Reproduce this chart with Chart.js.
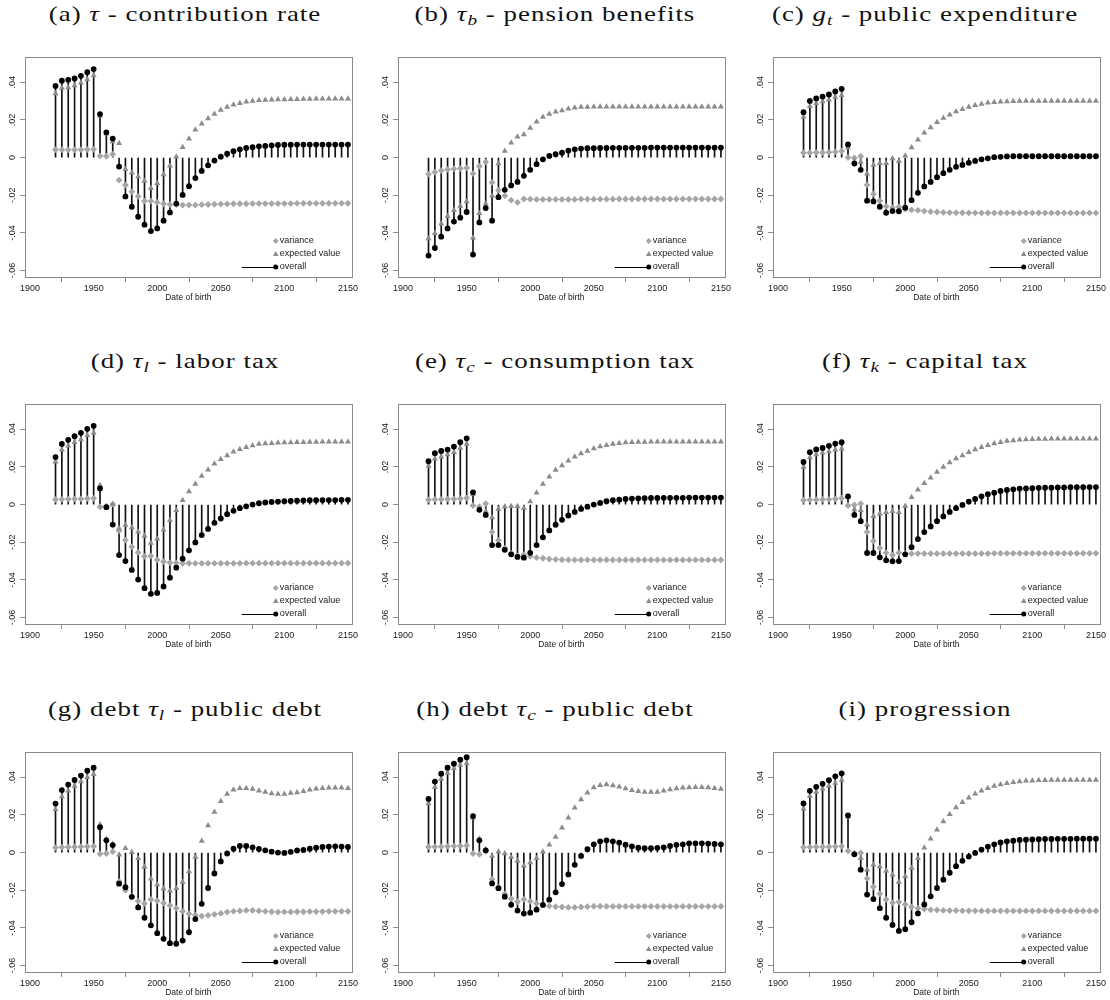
<!DOCTYPE html>
<html>
<head>
<meta charset="utf-8">
<title>Welfare decomposition by date of birth</title>
<script src="https://cdn.jsdelivr.net/npm/chart.js@4.4.1/dist/chart.umd.min.js"></script>
<style>
  html, body { margin: 0; padding: 0; background: #fff; }
  #page { position: relative; width: 1110px; height: 1000px; overflow: hidden; }
  .ttl {
    position: absolute; width: 370px; text-align: center; white-space: nowrap;
    font-family: "Liberation Serif", "DejaVu Serif", serif; font-size: 21px;
    letter-spacing: 0.8px; line-height: 24px; color: #111;
    transform: scaleX(1.28); transform-origin: 50% 50%;
  }
  .ttl sub { font-size: 15px; vertical-align: -4px; line-height: 0; }
  canvas { position: absolute; }
</style>
</head>
<body>
<div id="page"></div>
<script>
'use strict';

/* ─────────────────────────────────────────────
   DATA  (cohorts 1920–2150)
   ───────────────────────────────────────────── */
const years = [1920, 1925, 1930, 1935, 1940, 1945, 1950, 1955, 1960, 1965,
               1970, 1975, 1980, 1985, 1990, 1995, 2000, 2005, 2010, 2015,
               2020, 2025, 2030, 2035, 2040, 2045, 2050, 2055, 2060, 2065,
               2070, 2075, 2080, 2085, 2090, 2095, 2100, 2105, 2110, 2115,
               2120, 2125, 2130, 2135, 2140, 2145, 2150];
const xTicks = [1900, 1950, 2000, 2050, 2100, 2150];
const yTicks = [-0.06, -0.04, -0.02, 0, 0.02, 0.04];
const yTickLabels = ['-.06', '-.04', '-.02', '0', '.02', '.04'];
const seriesNames = ['variance', 'expected value', 'overall'];
const titles = [
  '(a) <i>τ</i> - contribution rate',
  '(b) <i>τ<sub>b</sub></i> - pension benefits',
  '(c) <i>g<sub>t</sub></i> - public expenditure',
  '(d) <i>τ<sub>l</sub></i> - labor tax',
  '(e) <i>τ<sub>c</sub></i> - consumption tax',
  '(f) <i>τ<sub>k</sub></i> - capital tax',
  '(g) debt <i>τ<sub>l</sub></i> - public debt',
  '(h) debt <i>τ<sub>c</sub></i> - public debt',
  '(i) progression',
];

// (a) contribution rate
const aVar = [.0042,.0042,.0041,.0041,.0042,.0043,.0044,.0009,.0007,.0018,
              -.012,-.0146,-.0182,-.0206,-.0231,-.0231,-.0238,-.0245,-.0249,-.025,
              -.0252,-.0252,-.0252,-.025,-.0249,-.0248,-.0247,-.0246,-.0245,-.0245,
              -.0245,-.0244,-.0244,-.0244,-.0244,-.0244,-.0244,-.0244,-.0243,-.0243,
              -.0243,-.0243,-.0243,-.0243,-.0243,-.0243,-.0243];
const aExp = [.034,.0369,.0372,.0383,.0397,.0415,.0436,.0222,.0127,.0086,
              .0076,-.0062,-.008,-.01,-.0124,-.0162,-.0136,-.009,-.0044,.0005,
              .0055,.01,.0148,.018,.0208,.0231,.0252,.0268,.028,.0289,
              .0296,.03,.0305,.0306,.0307,.0308,.0309,.031,.031,.0311,
              .0311,.0312,.0312,.0312,.0313,.0313,.0313];
const aAll = [.038,.0408,.0413,.042,.0434,.0453,.047,.0231,.0134,.0101,
              -.0048,-.0206,-.0261,-.0314,-.0356,-.039,-.0376,-.0335,-.0291,-.0244,
              -.0198,-.0152,-.0109,-.0071,-.0041,-.0016,.0005,.0021,.0034,.0044,
              .0051,.0055,.006,.0062,.0065,.0067,.0068,.0068,.0069,.0069,
              .0069,.0069,.0069,.0069,.0069,.0069,.0069];

// (b) pension benefits
const bVar = [-.0088,-.0078,-.0069,-.0063,-.006,-.0058,-.0055,-.0085,-.0046,-.0023,
              -.0132,-.0173,-.0203,-.0226,-.0238,-.022,-.0221,-.0222,-.0222,-.0222,
              -.0222,-.0222,-.0222,-.0222,-.0221,-.0221,-.0221,-.0221,-.0221,-.0221,
              -.022,-.022,-.022,-.022,-.022,-.022,-.022,-.022,-.022,-.022,
              -.022,-.022,-.022,-.022,-.022,-.022,-.022];
const bExp = [-.0429,-.0402,-.0351,-.0312,-.0279,-.0257,-.0233,-.0425,-.0295,-.0245,
              -.0203,-.0032,.0035,.0079,.0111,.0123,.0157,.019,.0215,.0231,
              .0243,.025,.0259,.0264,.0268,.0269,.027,.027,.027,.027,
              .027,.027,.027,.027,.027,.027,.027,.027,.027,.027,
              .027,.027,.027,.027,.027,.027,.027];
const bAll = [-.052,-.048,-.042,-.0376,-.034,-.0319,-.0289,-.0515,-.0344,-.0268,
              -.0335,-.021,-.0171,-.0148,-.0129,-.0097,-.0065,-.0035,-.0009,.0009,
              .0018,.0026,.0037,.0044,.0048,.005,.005,.0051,.0051,.0052,
              .0052,.0052,.0052,.0052,.0052,.0053,.0053,.0053,.0053,.0053,
              .0053,.0053,.0053,.0053,.0053,.0053,.0053];

// (c) public expenditure
const cVar = [.0025,.0026,.0027,.0027,.0028,.003,.0035,0,-.0002,.0007,
              -.0145,-.0194,-.0229,-.0259,-.0266,-.0263,-.0273,-.0278,-.028,-.0284,
              -.0287,-.0289,-.0291,-.0292,-.0293,-.0293,-.0294,-.0294,-.0294,-.0294,
              -.0294,-.0294,-.0294,-.0294,-.0294,-.0294,-.0294,-.0294,-.0294,-.0294,
              -.0294,-.0294,-.0294,-.0294,-.0294,-.0294,-.0294];
const cExp = [.0217,.0273,.0289,.0298,.0307,.0321,.0331,.0053,-.0018,-.0023,
              -.0086,-.004,-.003,-.003,-.0005,-.002,.001,.0053,.0095,.0132,
              .016,.0187,.021,.0227,.0245,.0257,.0268,.0278,.0285,.0291,
              .0294,.0297,.0298,.0299,.03,.03,.03,.03,.03,.03,
              .03,.03,.03,.03,.03,.03,.03];
const cAll = [.0241,.0301,.0314,.0324,.0335,.0351,.0365,.007,-.0032,-.0065,
              -.0229,-.0233,-.0261,-.0293,-.0284,-.0285,-.0266,-.0226,-.0187,-.0153,
              -.0129,-.0104,-.0083,-.0065,-.0049,-.0039,-.0028,-.0018,-.0009,-.0004,
              .0002,.0004,.0006,.0007,.0007,.0007,.0007,.0007,.0007,.0007,
              .0007,.0007,.0007,.0007,.0007,.0007,.0007];

// (d) labor tax
const dVar = [.0027,.0028,.0029,.003,.003,.0032,.0033,-.0012,-.0009,.0002,
              -.0139,-.0189,-.0224,-.0254,-.0275,-.0273,-.0294,-.0303,-.0308,-.031,
              -.0312,-.0312,-.0312,-.0312,-.0312,-.0312,-.0312,-.0312,-.0312,-.0312,
              -.0311,-.0311,-.0311,-.0311,-.0311,-.0311,-.0311,-.0311,-.0311,-.0311,
              -.0311,-.0311,-.0311,-.0311,-.0311,-.0311,-.0311];
const dExp = [.0227,.0291,.0312,.0331,.0345,.0368,.0382,.0102,-.0009,0,
              -.0125,-.0109,-.0122,-.0144,-.0166,-.0204,-.0181,-.0134,-.0083,-.003,
              .0023,.0069,.0109,.0152,.0185,.0217,.0241,.0261,.028,.0294,
              .0305,.0314,.0321,.0324,.0326,.0328,.0329,.033,.0331,.0331,
              .0332,.0332,.0333,.0333,.0333,.0333,.0333];
const dAll = [.0252,.0322,.0344,.0363,.0381,.0402,.0418,.0086,-.0014,-.0106,
              -.0268,-.03,-.0347,-.0398,-.0444,-.0474,-.0469,-.0435,-.0388,-.0335,
              -.0287,-.0243,-.0201,-.0162,-.0129,-.0097,-.0074,-.0051,-.0033,-.0019,
              -.0009,0,.0007,.0011,.0014,.0016,.0018,.0019,.0021,.0022,
              .0023,.0023,.0024,.0024,.0024,.0025,.0025];

// (e) consumption tax
const eVar = [.0025,.0027,.0028,.0029,.003,.0032,.0035,-.0005,-.0011,.0005,
              -.0146,-.019,-.0231,-.0259,-.0273,-.0266,-.0275,-.0282,-.0285,-.0289,
              -.0291,-.0293,-.0294,-.0294,-.0294,-.0294,-.0294,-.0294,-.0294,-.0294,
              -.0294,-.0294,-.0294,-.0294,-.0294,-.0294,-.0294,-.0294,-.0294,-.0294,
              -.0294,-.0294,-.0294,-.0294,-.0294,-.0294,-.0294];
const eExp = [.0205,.0243,.0254,.0266,.0278,.03,.0322,.0055,-.0023,-.0035,
              -.0069,-.0023,-.0011,-.0009,-.0009,-.0018,.0016,.0063,.0109,.0148,
              .0183,.0208,.0233,.0254,.0271,.0285,.0298,.0308,.0315,.0322,
              .0326,.0329,.0331,.0332,.0332,.0333,.0333,.0333,.0333,.0333,
              .0333,.0333,.0333,.0333,.0333,.0333,.0333];
const eAll = [.023,.0273,.0285,.0292,.0308,.0331,.0352,.0065,-.0028,-.0055,
              -.0215,-.0215,-.024,-.0264,-.0278,-.0282,-.0256,-.0215,-.0174,-.0137,
              -.0107,-.0081,-.0058,-.0039,-.0023,-.0011,0,.0009,.0018,.0023,
              .0026,.003,.0032,.0033,.0034,.0035,.0035,.0036,.0036,.0036,
              .0036,.0037,.0037,.0037,.0037,.0037,.0037];

// (f) capital tax
const fVar = [.0023,.0025,.0026,.0027,.0028,.003,.0034,-.0005,-.0002,.0005,
              -.0146,-.0194,-.0231,-.0256,-.0268,-.0256,-.0261,-.026,-.026,-.026,
              -.026,-.026,-.026,-.026,-.026,-.026,-.026,-.026,-.026,-.026,
              -.0259,-.0259,-.0259,-.0259,-.0259,-.0259,-.0259,-.0259,-.0259,-.0259,
              -.0259,-.0259,-.0259,-.0259,-.0259,-.0259,-.0259];
const fExp = [.0199,.025,.0266,.0275,.0282,.0291,.0296,.004,-.0026,-.003,
              -.0107,-.0062,-.0049,-.0041,-.0035,-.0041,-.0007,.0039,.0079,.0113,
              .0143,.0173,.0199,.0224,.0245,.0261,.0278,.0293,.0305,.0315,
              .0324,.0331,.0337,.034,.0344,.0345,.0347,.0348,.0348,.0349,
              .0349,.0349,.035,.035,.035,.035,.035];
const fAll = [.0226,.0278,.0293,.0301,.0312,.0324,.0331,.0044,-.0055,-.0088,
              -.0257,-.0257,-.028,-.0296,-.0301,-.03,-.0264,-.0226,-.0183,-.0146,
              -.0116,-.0088,-.0063,-.0039,-.0019,-.0002,.0016,.003,.0044,.0055,
              .0063,.0072,.0078,.0081,.0085,.0086,.0087,.0089,.009,.009,
              .0091,.0091,.0092,.0092,.0092,.0093,.0093];

// (g) debt, labor tax
const gVar = [.0026,.0028,.0029,.003,.0031,.0032,.0033,-.0007,-.0005,.0005,
              -.0153,-.02,-.0233,-.0258,-.027,-.0249,-.0256,-.0268,-.0281,-.0296,
              -.0312,-.0325,-.0332,-.0337,-.0333,-.0328,-.0323,-.0316,-.0312,-.031,
              -.0307,-.0307,-.031,-.0312,-.0314,-.0316,-.0315,-.0315,-.0314,-.0314,
              -.0313,-.0313,-.0313,-.0312,-.0312,-.0312,-.0312];
const gExp = [.023,.0298,.0328,.0353,.0377,.04,.0416,.0149,.0072,.0045,
              -.0012,.0023,.0002,-.003,-.0075,-.0139,-.017,-.0191,-.0202,-.0189,
              -.0156,-.01,-.0023,.0061,.0144,.0216,.0272,.0311,.0333,.0342,
              .0342,.0337,.0328,.0321,.0314,.0311,.0311,.0316,.0319,.0326,
              .0333,.0339,.0342,.0344,.0344,.0344,.0342];
const gAll = [.026,.0332,.0361,.0386,.0409,.0435,.0451,.0135,.0065,.004,
              -.0165,-.0184,-.0235,-.0291,-.0346,-.0386,-.0428,-.0458,-.0481,-.0484,
              -.0467,-.0423,-.0353,-.0272,-.0188,-.0111,-.0047,-.0005,.0021,.0035,
              .0035,.0028,.0019,.0012,.0005,0,-.0002,.0004,.0011,.0014,
              .0021,.0026,.003,.0032,.0033,.0032,.003];

// (h) debt, consumption tax
const hVar = [.003,.0031,.0032,.0033,.0034,.0035,.0037,-.0005,-.0009,.0007,
              -.0141,-.0185,-.022,-.0245,-.0261,-.0248,-.0259,-.027,-.0277,-.0284,
              -.0287,-.0289,-.0291,-.0291,-.0289,-.0287,-.0285,-.0285,-.0286,-.0286,
              -.0286,-.0286,-.0286,-.0286,-.0286,-.0286,-.0286,-.0286,-.0286,-.0286,
              -.0286,-.0286,-.0286,-.0286,-.0286,-.0286,-.0286];
const hExp = [.0261,.0347,.0391,.0423,.0446,.0465,.0474,.0185,.0074,.0018,
              -.0018,.0005,-.0005,-.0023,-.0044,-.007,-.0053,-.003,.0005,.0042,
              .0083,.0132,.0185,.0238,.0282,.0317,.0345,.0358,.0361,.0356,
              .0349,.034,.0331,.0326,.0321,.0321,.0322,.0328,.0335,.034,
              .0344,.0345,.0347,.0347,.0345,.0342,.0338];
const hAll = [.0285,.0377,.0419,.0451,.0472,.0493,.0506,.0194,.0065,.0012,
              -.0164,-.0189,-.0234,-.0277,-.0308,-.0324,-.0319,-.0303,-.0278,-.025,
              -.0211,-.0167,-.0116,-.0065,-.0018,.0018,.0044,.006,.0065,.006,
              .0053,.0042,.0033,.0026,.0023,.0023,.0025,.0028,.0035,.0041,
              .0044,.0049,.0049,.0049,.0048,.0046,.0044];

// (i) progression
const iVar = [.0028,.0029,.003,.003,.0031,.0032,.0033,.0009,-.0004,-.0002,
              -.0137,-.0182,-.0219,-.0249,-.0267,-.0263,-.0275,-.0289,-.0295,-.03,
              -.0304,-.0305,-.0307,-.0308,-.0308,-.0309,-.0309,-.0309,-.031,-.031,
              -.031,-.031,-.031,-.031,-.031,-.031,-.031,-.031,-.031,-.031,
              -.031,-.031,-.031,-.031,-.031,-.031,-.031];
const iExp = [.0233,.03,.0321,.0339,.0353,.037,.0386,.019,-.0005,-.003,
              -.0091,-.0065,-.0074,-.0096,-.0118,-.0156,-.0126,-.0082,-.003,.0026,
              .0074,.0121,.0165,.0204,.024,.0267,.0291,.0312,.0328,.0342,
              .0354,.0361,.0368,.0374,.0377,.0381,.0382,.0384,.0384,.0385,
              .0385,.0385,.0386,.0386,.0386,.0386,.0386];
const iAll = [.0261,.0328,.0349,.0365,.0384,.0405,.0421,.0198,-.0009,-.0091,
              -.0223,-.0247,-.0295,-.0346,-.0384,-.0416,-.0407,-.037,-.0323,-.0275,
              -.0232,-.0188,-.0144,-.0107,-.0072,-.0044,-.0021,-.0002,.0016,.0032,
              .0044,.0054,.006,.0063,.0067,.0068,.007,.0071,.0072,.0072,
              .0073,.0073,.0073,.0074,.0074,.0074,.0074];

const PANELS = [
  [aVar, aExp, aAll], [bVar, bExp, bAll], [cVar, cExp, cAll],
  [dVar, dExp, dAll], [eVar, eExp, eAll], [fVar, fExp, fAll],
  [gVar, gExp, gAll], [hVar, hExp, hAll], [iVar, iExp, iAll],
];

/* ─────────────────────────────────────────────
   LAYOUT & THEME
   ───────────────────────────────────────────── */
const COL_LEFT = [25, 398, 773];      // left edge of each plot frame
const ROW_TOP = [57, 404, 752];       // top edge of each plot frame
const FRAME_W = 328, FRAME_H = 220;
const Y_AXIS_W = 25, X_AXIS_H = 26, PAD_TOP = 10, PAD_RIGHT = 6;

const INK = '#1a1a1a';
const FRAME = '#8a8a8a';
const VAR_GREY = '#a6a6a6';
const EXP_GREY = '#8c8c8c';
const SANS = '"Liberation Sans", Arial, sans-serif';

const pts = vals => vals.map((v, i) => ({ x: years[i], y: v }));

/* frame box, rotated y labels and the in-plot legend */
const stataPlugin = {
  id: 'stataLook',
  beforeDatasetsDraw(chart) {
    const { ctx, chartArea: a } = chart;
    ctx.save();
    ctx.strokeStyle = FRAME;
    ctx.lineWidth = 1;
    ctx.strokeRect(Math.round(a.left) + 0.5, Math.round(a.top) + 0.5,
                   Math.round(a.right - a.left), Math.round(a.bottom - a.top));
    ctx.restore();
  },
  afterDraw(chart) {
    const { ctx, chartArea: a, scales: { y } } = chart;
    ctx.save();
    ctx.fillStyle = INK;
    ctx.font = '9px ' + SANS;
    ctx.textAlign = 'center';
    ctx.textBaseline = 'middle';
    y.ticks.forEach((t, i) => {
      ctx.save();
      ctx.translate(a.left - 12, y.getPixelForValue(t.value));
      ctx.rotate(-Math.PI / 2);
      ctx.fillText(yTickLabels[i], 0, 0);
      ctx.restore();
    });

    // legend, lower right inside the frame
    const mx = a.right - 76;
    const rows = [a.bottom - 36, a.bottom - 23, a.bottom - 10];

    ctx.fillStyle = VAR_GREY;
    ctx.beginPath();
    ctx.moveTo(mx, rows[0] - 3); ctx.lineTo(mx + 3, rows[0]);
    ctx.lineTo(mx, rows[0] + 3); ctx.lineTo(mx - 3, rows[0]);
    ctx.closePath(); ctx.fill();

    ctx.fillStyle = EXP_GREY;
    ctx.beginPath();
    ctx.moveTo(mx, rows[1] - 3); ctx.lineTo(mx + 2.8, rows[1] + 2);
    ctx.lineTo(mx - 2.8, rows[1] + 2);
    ctx.closePath(); ctx.fill();

    ctx.strokeStyle = '#000';
    ctx.lineWidth = 1;
    ctx.beginPath();
    ctx.moveTo(a.right - 110, rows[2] + 0.5); ctx.lineTo(mx, rows[2] + 0.5);
    ctx.stroke();
    ctx.fillStyle = '#000';
    ctx.beginPath(); ctx.arc(mx, rows[2], 2.5, 0, Math.PI * 2); ctx.fill();

    ctx.fillStyle = INK;
    ctx.textAlign = 'left';
    seriesNames.forEach((name, i) => ctx.fillText(name, a.right - 72, rows[i]));
    ctx.restore();
  },
};

function axisGrid() {
  return {
    drawOnChartArea: false,
    drawTicks: true,
    tickLength: 5,
    color: FRAME,
    tickColor: FRAME,
    lineWidth: 1,
  };
}

function makePanel(page, k) {
  const [vVar, vExp, vAll] = PANELS[k];
  const col = k % 3, row = Math.floor(k / 3);

  const title = document.createElement('div');
  title.className = 'ttl';
  title.innerHTML = titles[k];
  title.style.left = (col * 370) + 'px';
  title.style.top = (ROW_TOP[row] - 55) + 'px';
  page.appendChild(title);

  const cv = document.createElement('canvas');
  cv.width = Y_AXIS_W + FRAME_W + PAD_RIGHT;
  cv.height = PAD_TOP + FRAME_H + X_AXIS_H;
  cv.style.left = (COL_LEFT[col] - Y_AXIS_W) + 'px';
  cv.style.top = (ROW_TOP[row] - PAD_TOP) + 'px';
  page.appendChild(cv);

  return new Chart(cv, {
    type: 'bar',
    data: {
      datasets: [
        { type: 'scatter', label: seriesNames[2], data: pts(vAll), order: 0,
          pointStyle: 'circle', pointRadius: 2.9, backgroundColor: '#000', borderWidth: 0 },
        { type: 'scatter', label: seriesNames[1], data: pts(vExp), order: 1,
          pointStyle: 'triangle', pointRadius: 3.5, backgroundColor: EXP_GREY, borderWidth: 0 },
        { type: 'scatter', label: seriesNames[0], data: pts(vVar), order: 2,
          pointStyle: 'rectRot', pointRadius: 3.4, backgroundColor: VAR_GREY, borderWidth: 0 },
        { type: 'bar', label: 'overall spike', data: pts(vAll), order: 3,
          backgroundColor: '#111', borderWidth: 0, barThickness: 1 },
      ],
    },
    options: {
      responsive: false,
      animation: false,
      events: [],
      layout: { padding: { top: PAD_TOP, right: PAD_RIGHT, left: 0, bottom: 0 } },
      plugins: { legend: { display: false }, tooltip: { enabled: false } },
      scales: {
        x: {
          type: 'linear', min: 1896, max: 2153, offset: false,
          afterBuildTicks: s => { s.ticks = xTicks.map(v => ({ value: v })); },
          afterFit: s => { s.height = X_AXIS_H; },
          grid: axisGrid(),
          border: { display: false },
          ticks: { color: INK, font: { family: SANS, size: 9 }, padding: 1,
                   maxRotation: 0, autoSkip: false, callback: v => String(v) },
          title: { display: true, text: 'Date of birth', color: INK,
                   font: { family: SANS, size: 8.5 }, padding: { top: 0, bottom: 0 } },
        },
        y: {
          type: 'linear', min: -0.0634, max: 0.0534,
          afterBuildTicks: s => { s.ticks = yTicks.map(v => ({ value: v })); },
          afterFit: s => { s.width = Y_AXIS_W; },
          grid: axisGrid(),
          border: { display: false },
          ticks: { display: false },
        },
      },
    },
    plugins: [stataPlugin],
  });
}

const page = document.getElementById('page');
PANELS.forEach((_, k) => makePanel(page, k));
</script>
</body>
</html>
